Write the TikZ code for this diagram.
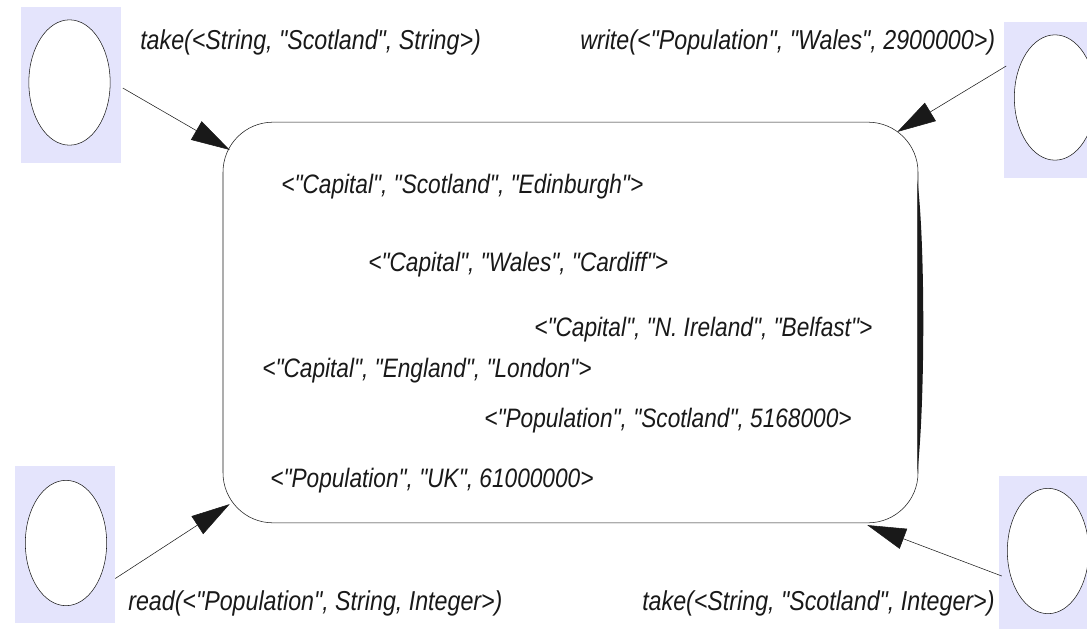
\documentclass[tikz,border=0pt]{standalone}
\usepackage{fontspec}
\setmainfont{Liberation Sans}[FakeStretch=0.85,Ligatures=TeXOff]
\usepackage{xcolor}
\definecolor{lavender}{RGB}{228,228,252}
\definecolor{ink}{RGB}{25,25,25}
\usepackage{tikz}
\usetikzlibrary{arrows.meta,positioning,calc,shapes.geometric}

\begin{document}
\begin{tikzpicture}[x=0.75pt,y=-0.75pt,
  agent/.style={rectangle,fill=lavender,inner sep=0pt,
                minimum width=75pt,minimum height=117.5pt},
  proc/.style={ellipse,draw=ink,thin,fill=white,inner sep=0pt,
               minimum width=61pt,minimum height=94pt},
  space/.style={rectangle,draw=ink,thin,rounded corners=37.5pt,
                minimum width=521.25pt,minimum height=300.5pt},
  tup/.style={font=\fontsize{20}{23}\selectfont\itshape,color=ink,
              anchor=west,inner sep=0pt},
  op/.style={font=\fontsize{20.5}{23}\selectfont\itshape,color=ink,
             anchor=west,inner sep=0pt},
  flow/.style={draw=ink,thin,-{Triangle[length=29pt,width=16pt]}},
]
  \clip (0,0) rectangle (1087,628);
  \fill[white] (0,0) rectangle (1087,628);

  \node[agent](P1) at (70.5,85)   {};
  \node[agent](P2) at (1053.5,100) {};
  \node[agent](P3) at (65,544.5)  {};
  \node[agent](P4) at (1049,554)  {};

  \node[proc](E1) at (69.5,82.5) {};
  \node[proc](E2) at (1055,97.5) {};
  \node[proc](E3) at (66,543)    {};
  \node[proc](E4) at (1048,551)  {};

  \node[space](T) at (570.5,322.5) {};
  \fill[ink] ($(T.north east)+(-1,58)$) .. controls ($(T.east)+(7,-80)$)
    and ($(T.east)+(7,80)$) .. ($(T.south east)+(-1,-50)$) -- cycle;

  \node[tup] (t1) at (281,187) {<"Capital", "Scotland", "Edinburgh">};
  \node[tup] (t2) at (368,265) {<"Capital", "Wales", "Cardiff">};
  \node[tup] (t3) at (534,330) {<"Capital", "N. Ireland", "Belfast">};
  \node[tup] (t4) at (262,371) {<"Capital", "England", "London">};
  \node[tup] (t5) at (484,421) {<"Population", "Scotland", 5168000>};
  \node[tup] (t6) at (270,481) {<"Population", "UK", 61000000>};

  \node[op] (o1) at (140,42)  {take(<String, "Scotland", String>)};
  \node[op] (o2) at (580,42)  {write(<"Population", "Wales", 2900000>)};
  \node[op] (o3) at (128,603) {read(<"Population", String, Integer>)};
  \node[op] (o4) at (642,603) {take(<String, "Scotland", Integer>)};

  \draw[flow] ($(P1.east)+(2,3)$) -- ($(T.north west)+(7,28)$);
  \draw[flow] ($(P2.west)+(3,-34)$) -- ($(T.north east)+(-21,10)$);
  \draw[flow] ($(P3.east)+(0,34)$) -- ($(T.south west)+(7,-19)$);
  \draw[flow] ($(P4.west)+(3,22)$) -- ($(T.south east)+(-51,2)$);
\end{tikzpicture}
\end{document}
